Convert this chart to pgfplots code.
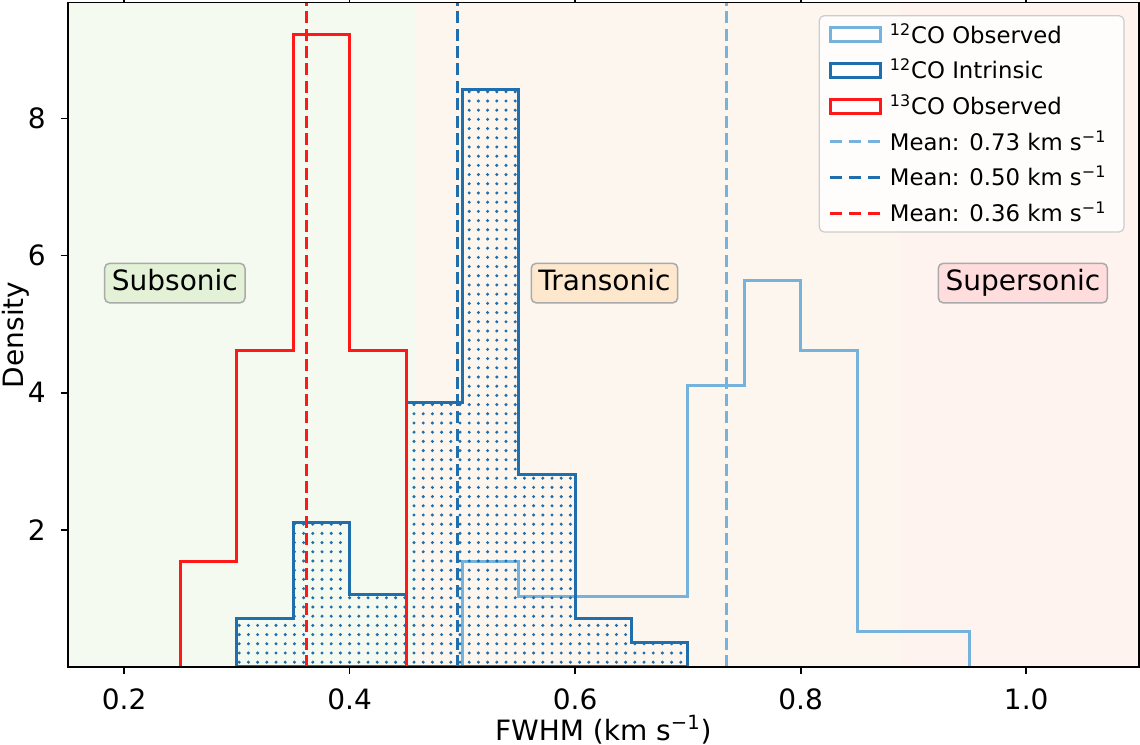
\documentclass[border=0pt]{standalone}
\usepackage{fontspec}
\setmainfont{DejaVu Sans}
\usepackage{pgfplots}
\usepackage{pgfplotstable}
\pgfplotsset{compat=1.18}
\usetikzlibrary{patterns.meta}

\definecolor{cLight}{RGB}{118,179,220}
\definecolor{cDark}{RGB}{31,110,174}
\definecolor{cRed}{RGB}{255,24,24}
\definecolor{bgG}{RGB}{244,250,239}
\definecolor{bgO}{RGB}{253,246,238}
\definecolor{bgR}{RGB}{255,243,240}
\definecolor{boxG}{RGB}{227,242,215}
\definecolor{boxO}{RGB}{253,232,206}
\definecolor{boxR}{RGB}{255,221,220}
\definecolor{boxE}{RGB}{170,170,170}
\definecolor{legE}{RGB}{204,204,204}

\newcommand\ticksize{\fontsize{14}{16.8}\selectfont}
\newcommand\legsize{\fontsize{11.4}{13.7}\selectfont}

% 12CO observed (step outline: bin left edge, density)
\pgfplotstableread{
x y
0.50 0
0.50 1.538
0.55 1.026
0.60 1.026
0.65 1.026
0.70 4.103
0.75 5.641
0.80 4.615
0.85 0.513
0.90 0.513
0.95 0
}\obsTwelve

% 12CO intrinsic
\pgfplotstableread{
x y
0.30 0
0.30 0.702
0.35 2.105
0.40 1.053
0.45 3.860
0.50 8.421
0.55 2.807
0.60 0.702
0.65 0.351
0.70 0
}\intTwelve

% 13CO observed
\pgfplotstableread{
x y
0.25 0
0.25 1.538
0.30 4.615
0.35 9.231
0.40 4.615
0.45 0
}\obsThirteen

\begin{document}
\begin{tikzpicture}
\begin{axis}[
  name=ax,
  scale only axis,
  width=535.65pt, height=332.15pt,
  xmin=0.15, xmax=1.10, ymin=0, ymax=9.69,
  xtick={0.2,0.4,0.6,0.8,1.0},
  ytick={2,4,6,8},
  axis on top,
  tick align=outside,
  major tick length=3.5pt,
  every tick/.style={black, line width=0.8pt},
  axis line style={line width=0.8pt},
  tick label style={font=\ticksize},
  /pgf/number format/assume math mode=true,
  xticklabel style={/pgf/number format/.cd, fixed, fixed zerofill, precision=1, /tikz/.cd, anchor=base, yshift=-17.9pt, inner sep=0pt},
  yticklabel style={anchor=east, inner sep=0pt, xshift=-7.3pt},
  xlabel={FWHM (km s\textsuperscript{−1})},
  ylabel={Density},
  xlabel style={font=\ticksize, at={([yshift=-36.6pt]axis description cs:0.5,0)}, anchor=base},
  ylabel style={font=\ticksize, at={([xshift=-22.2pt]axis description cs:0,0.5)}, anchor=base},
  legend cell align=left,
  legend style={at={(1,1)}, anchor=north east, xshift=-7.2pt, yshift=-6.2pt,
    draw=legE, line width=0.6pt, rounded corners=2.5pt, fill=white, fill opacity=0.8, text opacity=1,
    font=\legsize, row sep=4.1pt, inner xsep=4.8pt, inner ysep=2.6pt,
    nodes={inner xsep=4pt, inner ysep=1.2pt}},
]
% regime backgrounds
\addplot[forget plot, draw=none, fill=bgG] coordinates {(0.10,0) (0.10,10) (0.458,10) (0.458,0)} \closedcycle;
\addplot[forget plot, draw=none, fill=bgO] coordinates {(0.458,0) (0.458,10) (0.888,10) (0.888,0)} \closedcycle;
\addplot[forget plot, draw=none, fill=bgR] coordinates {(0.888,0) (0.888,10) (1.15,10) (1.15,0)} \closedcycle;

% histograms
\addplot[const plot, draw=cLight, line width=1.5pt,
  legend image code/.code={\draw[sharp corners, draw=cLight, line width=1.5pt, fill=white] (0pt,-3.5pt) rectangle (25pt,3.5pt);}]
  table[x=x, y=y] {\obsTwelve};
\addlegendentry{\textsuperscript{12}CO Observed}

\addplot[const plot, draw=cDark, line width=1.5pt, pattern={Dots[distance=4.6pt, radius=0.85pt]}, pattern color=cDark,
  legend image code/.code={\draw[sharp corners, draw=cDark, line width=1.5pt, fill=white] (0pt,-3.5pt) rectangle (25pt,3.5pt);}]
  table[x=x, y=y] {\intTwelve} \closedcycle;
\addlegendentry{\textsuperscript{12}CO Intrinsic}

\addplot[const plot, draw=cRed, line width=1.5pt,
  legend image code/.code={\draw[sharp corners, draw=cRed, line width=1.5pt, fill=white] (0pt,-3.5pt) rectangle (25pt,3.5pt);}]
  table[x=x, y=y] {\obsThirteen};
\addlegendentry{\textsuperscript{13}CO Observed}

% mean lines
\addplot[cLight, line width=1.5pt, dash pattern=on 6pt off 2.7pt,
  legend image code/.code={\draw[sharp corners, cLight, line width=1.5pt, dash pattern=on 6pt off 3.5pt] (0pt,0pt) -- (25pt,0pt);}]
  coordinates {(0.734,0) (0.734,10)};
\addlegendentry{Mean: 0.73 km s\textsuperscript{−1}}

\addplot[cDark, line width=1.5pt, dash pattern=on 6pt off 2.7pt,
  legend image code/.code={\draw[sharp corners, cDark, line width=1.5pt, dash pattern=on 6pt off 3.5pt] (0pt,0pt) -- (25pt,0pt);}]
  coordinates {(0.496,0) (0.496,10)};
\addlegendentry{Mean: 0.50 km s\textsuperscript{−1}}

\addplot[cRed, line width=1.5pt, dash pattern=on 6pt off 2.7pt,
  legend image code/.code={\draw[sharp corners, cRed, line width=1.5pt, dash pattern=on 6pt off 3.5pt] (0pt,0pt) -- (25pt,0pt);}]
  coordinates {(0.362,0) (0.362,10)};
\addlegendentry{Mean: 0.36 km s\textsuperscript{−1}}

% regime labels
\node[draw=boxE, line width=0.75pt, fill=boxG, rounded corners=2.5pt, inner xsep=3.6pt, inner ysep=3pt, text height=10.8pt, text depth=3pt, font=\ticksize] at (axis cs:0.245,5.6) {Subsonic};
\node[draw=boxE, line width=0.75pt, fill=boxO, rounded corners=2.5pt, inner xsep=3.6pt, inner ysep=3pt, text height=10.8pt, text depth=3pt, font=\ticksize] at (axis cs:0.626,5.6) {Transonic};
\node[draw=boxE, line width=0.75pt, fill=boxR, rounded corners=2.5pt, inner xsep=3.6pt, inner ysep=3pt, text height=10.8pt, text depth=3pt, font=\ticksize] at (axis cs:0.997,5.6) {Supersonic};
\end{axis}
\pgfresetboundingbox
\path[use as bounding box] ([shift={(-33.85pt,-39pt)}]ax.south west) rectangle ([shift={(0.5pt,1.35pt)}]ax.north east);
\end{tikzpicture}
\end{document}
